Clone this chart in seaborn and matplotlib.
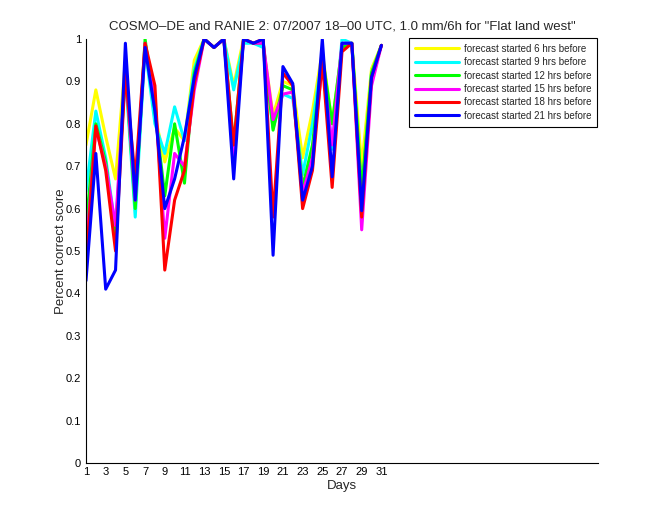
import matplotlib
matplotlib.use("Agg")
import matplotlib.pyplot as plt
import seaborn as sns
import pandas as pd
import numpy as np

days = list(range(1, 32))
labels = ["forecast started 6 hrs before", "forecast started 9 hrs before",
          "forecast started 12 hrs before", "forecast started 15 hrs before",
          "forecast started 18 hrs before", "forecast started 21 hrs before"]
colors = ["#ffff00", "#00ffff", "#00ff00", "#ff00ff", "#ff0000", "#0000ff"]

s6 = [0.75, 0.88, 0.77, 0.67, 0.95, 0.62, 0.98, 0.82, 0.71, 0.79, 0.76, 0.95, 1.0, 0.98, 1.0, 0.89,
      1.0, 0.99, 0.985, 0.82, 0.90, 0.89, 0.72, 0.83, 0.97, 0.80, 0.98, 0.99, 0.70, 0.93, 0.985]
s9 = [0.64, 0.83, 0.72, 0.55, 0.92, 0.58, 0.98, 0.80, 0.73, 0.84, 0.76, 0.93, 1.0, 0.98, 1.0, 0.88,
      0.99, 0.99, 0.98, 0.79, 0.87, 0.86, 0.68, 0.80, 0.96, 0.74, 1.0, 0.99, 0.63, 0.92, 0.985]
s12 = [0.56, 0.80, 0.71, 0.53, 0.93, 0.60, 1.0, 0.83, 0.63, 0.80, 0.66, 0.92, 1.0, 0.98, 1.0, 0.75,
       1.0, 0.99, 0.99, 0.785, 0.89, 0.88, 0.65, 0.75, 0.96, 0.80, 0.98, 0.99, 0.64, 0.92, 0.985]
s15 = [0.50, 0.79, 0.70, 0.56, 0.93, 0.62, 0.99, 0.86, 0.53, 0.73, 0.70, 0.88, 1.0, 0.98, 1.0, 0.72,
       1.0, 0.99, 0.99, 0.81, 0.87, 0.875, 0.635, 0.72, 0.94, 0.75, 0.99, 0.99, 0.55, 0.89, 0.985]
s18 = [0.47, 0.795, 0.69, 0.50, 0.92, 0.67, 0.99, 0.89, 0.455, 0.62, 0.69, 0.895, 1.0, 0.98, 1.0, 0.75,
       1.0, 0.99, 1.0, 0.58, 0.92, 0.89, 0.60, 0.69, 0.95, 0.65, 0.97, 0.99, 0.58, 0.91, 0.985]
s21 = [0.43, 0.73, 0.41, 0.455, 0.99, 0.62, 0.98, 0.83, 0.60, 0.67, 0.77, 0.91, 1.0, 0.98, 1.0, 0.67,
       1.0, 0.99, 1.0, 0.49, 0.935, 0.895, 0.62, 0.70, 1.0, 0.675, 0.99, 0.99, 0.595, 0.91, 0.985]

series = [s6, s9, s12, s15, s18, s21]
df = pd.DataFrame({
    "Days": np.tile(days, len(series)),
    "score": np.concatenate(series),
    "series": np.repeat(labels, len(days)),
})

sns.set_style("white")
plt.rcParams["font.family"] = ["Liberation Sans", "DejaVu Sans"]

fig = plt.figure(figsize=(6.6, 5.2), dpi=100)
ax = fig.add_axes([86/660, 1-463/520, (598-86)/660, (463-39)/520])
sns.lineplot(data=df, x="Days", y="score", hue="series", hue_order=labels,
             palette=colors, linewidth=2.2, ax=ax, legend=True)

ax.set_xlim(1, 53)
ax.set_ylim(0, 1)
ax.set_xticks(list(range(1, 32, 2)))
ax.set_yticks([i/10 for i in range(11)])
ax.set_yticklabels(["0", "0.1", "0.2", "0.3", "0.4", "0.5", "0.6", "0.7", "0.8", "0.9", "1"])
ax.tick_params(direction="in", length=4, labelsize=8, width=0.8, colors="black")
ax.tick_params(axis="x", pad=3)
for side in ["top", "right"]:
    ax.spines[side].set_visible(False)
for side in ["left", "bottom"]:
    ax.spines[side].set_color("black")
    ax.spines[side].set_linewidth(0.8)
ax.set_xlabel("Days", fontsize=9.5, labelpad=2)
ax.set_ylabel("Percent correct score", fontsize=9.5, labelpad=-1)
ax.set_title('COSMO\u2013DE and RANIE 2: 07/2007 18\u201300 UTC, 1.0 mm/6h for "Flat land west"',
             fontsize=9.5, pad=7)

leg = ax.legend(loc="upper right", bbox_to_anchor=(597/660, 1-38/520), bbox_transform=fig.transFigure,
                fontsize=7, frameon=True, fancybox=False, edgecolor="black", framealpha=1,
                handlelength=4.5, handletextpad=0.5, labelspacing=0.35, borderpad=0.6,
                borderaxespad=0)
leg.get_frame().set_linewidth(0.8)
for line in leg.get_lines():
    line.set_linewidth(2.2)

fig.savefig("out.png", dpi=100)
